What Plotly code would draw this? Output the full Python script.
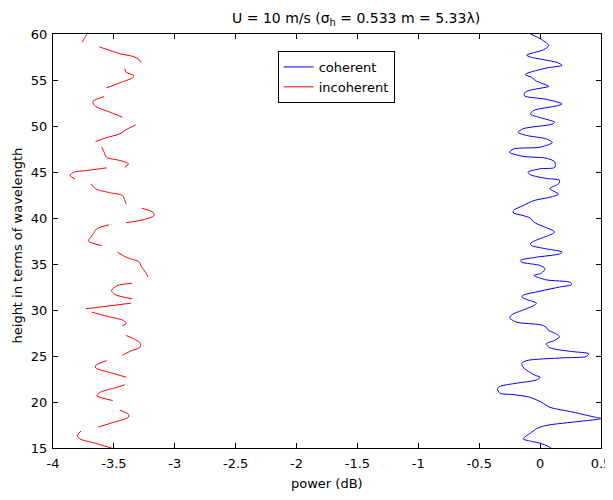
import plotly.graph_objects as go

# ---- data ----
coherent_height = [60.0, 59.5, 58.75, 58.3, 57.7, 57.5, 56.9, 56.6, 56.3, 55.7, 55.55, 55.3, 54.95,
                   54.3, 54.2, 53.7, 53.3, 52.9, 52.4, 52.2, 51.7, 51.3, 50.95, 50.4, 50.2, 49.7,
                   49.3, 48.97, 48.6, 48.2, 47.7, 47.5, 47.15, 46.7, 46.5, 46.1, 45.5, 45.35, 44.97,
                   44.7, 44.3, 44.1, 43.7, 43.2, 42.6, 42.25, 41.9, 41.35, 40.8, 40.56, 40.27, 39.98,
                   39.54, 38.6, 38.45, 38.0, 37.55, 37.2, 37.0, 36.65, 36.3, 36.1, 35.74, 35.4, 35.2,
                   34.84, 34.5, 34.0, 33.75, 33.28, 33.0, 32.77, 32.5, 32.05, 31.6, 31.4, 31.1, 30.74,
                   30.5, 29.95, 29.5, 29.15, 28.67, 28.4, 28.13, 27.77, 27.6, 27.12, 26.7, 26.33, 25.9,
                   25.5, 25.24, 24.95, 24.8, 24.5, 24.2, 23.78, 23.2, 22.9, 22.7, 22.4, 22.05, 21.7,
                   21.45, 20.96, 20.8, 20.5, 19.98, 19.43, 18.9, 18.35, 18.2, 17.9, 17.45, 17.1, 16.7,
                   16.25, 16.0, 15.74, 15.52, 15.16, 15.0]
coherent_power = [-0.08, 0.0, 0.07, 0.03, -0.11, -0.08, 0.14, 0.18, 0.05, -0.11, -0.12, -0.07, -0.04,
                  0.07, 0.04, -0.12, -0.13, 0.05, 0.18, 0.14, -0.05, -0.08, -0.01, 0.12, 0.10, -0.14,
                  -0.18, -0.11, 0.05, 0.10, 0.0, -0.22, -0.25, -0.14, 0.05, 0.12, 0.12, 0.0, -0.10,
                  -0.08, 0.05, 0.16, 0.15, 0.08, 0.15, 0.08, -0.05, -0.14, -0.22, -0.22, -0.14, -0.08,
                  -0.05, 0.11, 0.12, 0.05, -0.04, -0.08, -0.07, 0.05, 0.18, 0.16, -0.03, -0.16, -0.15,
                  0.0, 0.04, 0.01, -0.05, 0.05, 0.25, 0.26, 0.16, 0.0, -0.14, -0.15, -0.10, -0.03,
                  -0.05, -0.15, -0.23, -0.25, -0.19, 0.0, 0.05, 0.07, 0.10, 0.16, 0.12, 0.05, 0.08,
                  0.25, 0.40, 0.38, 0.19, -0.11, -0.15, -0.14, -0.08, -0.04, 0.0, -0.03, -0.19, -0.33,
                  -0.35, -0.33, -0.22, -0.08, 0.01, 0.08, 0.27, 0.45, 0.50, 0.33, 0.05, -0.03, -0.07,
                  -0.12, -0.14, -0.08, 0.0, 0.07, 0.09]

# incoherent curve: separate pieces, None marks a gap
incoherent_height = [60.0, 59.6, 59.1, None,
                     58.6, 58.2, 57.85, 57.55, 57.2, 56.9, None,
                     56.2, 55.85, 55.5, 55.3, 54.7, 54.15, None,
                     53.2, 52.7, 52.4, 52.05, 51.5, 50.95, None,
                     50.13, 49.6, 49.15, 48.7, 48.3, None,
                     47.7, 47.15, 46.6, 46.25, 45.9, 45.5, None,
                     45.45, 45.2, 44.97, 44.6, 44.26, None,
                     43.72, 43.17, 42.74, 42.45, 41.9, 41.55, None,
                     41.05, 40.63, 40.27, 39.84, 39.48, None,
                     39.26, 38.83, 38.28, 37.9, 37.5, 37.0, None,
                     36.28, 35.74, 35.2, 34.84, 34.1, 33.6, None,
                     32.91, 32.66, 32.12, 31.68, 31.22, None,
                     30.74, 30.13, None,
                     29.76, 29.3, 28.85, 28.5, 28.3, None,
                     27.23, 26.68, 26.33, 25.9, 25.6, 25.1, None,
                     24.5, 23.97, 23.7, 23.2, 22.7, None,
                     21.87, 21.5, 21.07, 20.7, 20.16, None,
                     19.1, 18.65, 18.35, 17.8, 17.26, None,
                     16.85, 16.36, 16.0, 15.5, 15.0]
incoherent_power = [-3.72, -3.74, -3.76, None,
                    -3.62, -3.53, -3.45, -3.34, -3.29, -3.28, None,
                    -3.41, -3.40, -3.34, -3.34, -3.45, -3.56, None,
                    -3.58, -3.67, -3.67, -3.64, -3.53, -3.43, None,
                    -3.32, -3.40, -3.45, -3.57, -3.65, None,
                    -3.60, -3.58, -3.56, -3.45, -3.38, -3.41, None,
                    -3.56, -3.70, -3.83, -3.86, -3.82, None,
                    -3.69, -3.65, -3.53, -3.43, -3.41, -3.40, None,
                    -3.27, -3.18, -3.17, -3.25, -3.40, None,
                    -3.54, -3.64, -3.67, -3.69, -3.71, -3.60, None,
                    -3.47, -3.40, -3.29, -3.28, -3.24, -3.22, None,
                    -3.35, -3.47, -3.52, -3.49, -3.35, None,
                    -3.36, -3.73, None,
                    -3.68, -3.55, -3.42, -3.40, -3.43, None,
                    -3.40, -3.31, -3.28, -3.29, -3.35, -3.43, None,
                    -3.56, -3.65, -3.65, -3.53, -3.40, None,
                    -3.41, -3.50, -3.61, -3.64, -3.51, None,
                    -3.45, -3.38, -3.38, -3.50, -3.63, None,
                    -3.77, -3.80, -3.78, -3.65, -3.52]

x_tick_vals = [-4, -3.5, -3, -2.5, -2, -1.5, -1, -0.5, 0, 0.5]
x_tick_text = ["-4", "-3.5", "-3", "-2.5", "-2", "-1.5", "-1", "-0.5", "0", "0.5"]
y_tick_vals = [15, 20, 25, 30, 35, 40, 45, 50, 55, 60]
y_tick_text = ["15", "20", "25", "30", "35", "40", "45", "50", "55", "60"]

title_text = "U = 10 m/s (σ<sub>h</sub> = 0.533 m = 5.33λ)"
x_title = "power (dB)"
y_title = "height in terms of wavelength"

# ---- figure ----
# the page body has an 8px default margin, so the figure is sized to fit the window
FONT = "DejaVu Sans, Liberation Sans, sans-serif"
FS = 13
fig = go.Figure()
fig.add_trace(go.Scatter(x=coherent_power, y=coherent_height, mode="lines",
                         name="coherent",
                         line=dict(color="#0000FF", width=1, shape="spline", smoothing=0.8)))
fig.add_trace(go.Scatter(x=incoherent_power, y=incoherent_height, mode="lines",
                         name="incoherent", connectgaps=False,
                         line=dict(color="#FF0000", width=1, shape="spline", smoothing=0.8)))

axis_common = dict(showgrid=False, zeroline=False, showline=True, linecolor="black",
                   linewidth=1, mirror="ticks", ticks="inside", ticklen=5,
                   tickcolor="black", automargin=False,
                   tickfont=dict(family=FONT, size=FS, color="black"))

fig.update_layout(
    width=605, height=492,
    margin=dict(l=45, r=12, t=26, b=52, autoexpand=False),
    paper_bgcolor="white", plot_bgcolor="white",
    font=dict(family=FONT, size=FS, color="black"),
    xaxis=dict(range=[-4, 0.5], tickvals=x_tick_vals, ticktext=x_tick_text,
               ticklabelstandoff=3, **axis_common),
    yaxis=dict(range=[15, 60], tickvals=y_tick_vals, ticktext=y_tick_text,
               ticklabelstandoff=2, **axis_common),
    legend=dict(x=0.41, y=0.959, xanchor="left", yanchor="top",
                bgcolor="white", bordercolor="black", borderwidth=1,
                font=dict(family=FONT, size=FS, color="black"),
                tracegroupgap=0, itemwidth=30),
    showlegend=True,
    annotations=[
        dict(text=title_text, xref="paper", yref="paper", x=0.553, y=1.0628,
             xanchor="center", yanchor="top", showarrow=False,
             font=dict(family=FONT, size=14, color="black")),
        dict(text=x_title, xref="paper", yref="paper", x=0.5, y=0, yshift=-26,
             xanchor="center", yanchor="top", showarrow=False,
             font=dict(family=FONT, size=FS, color="black")),
        dict(text=y_title, xref="paper", yref="paper", x=0, xshift=-45, y=0.488,
             xanchor="left", yanchor="middle", textangle=-90, showarrow=False,
             font=dict(family=FONT, size=FS, color="black")),
    ],
)

fig.write_html("out.html")
